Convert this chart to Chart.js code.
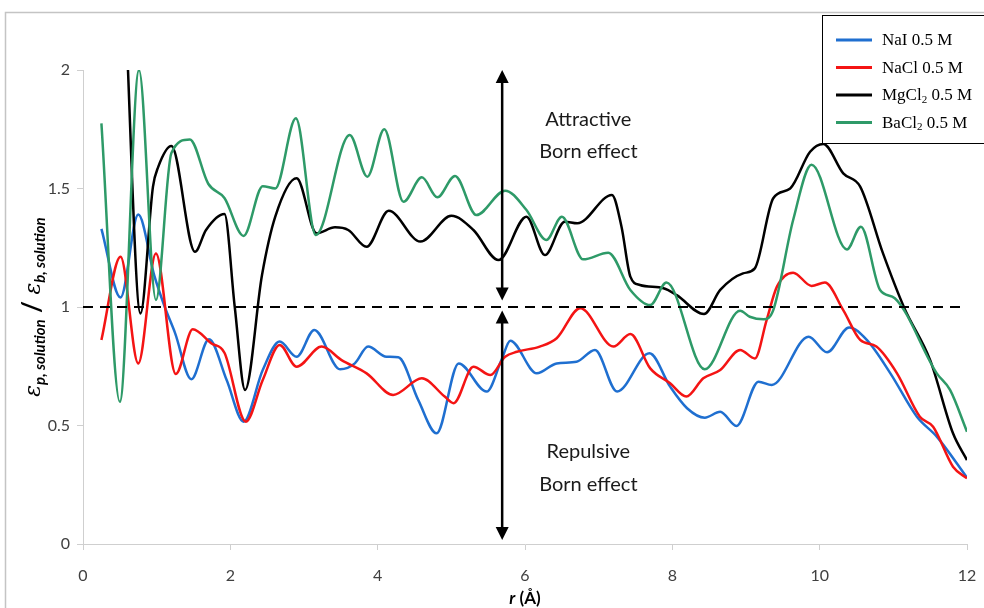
<!DOCTYPE html>
<html>
<head>
<meta charset="utf-8">
<title>Born effect</title>
<script src="https://cdn.jsdelivr.net/npm/chart.js@4.4.1/dist/chart.umd.min.js"></script>
<style>
  html, body { margin: 0; padding: 0; background: #fff; }
  #wrap { width: 984px; height: 608px; }
</style>
</head>
<body>
<div id="wrap"><canvas id="bornChart" width="984" height="608"></canvas></div>
<script>
// r in angstrom, ratio eps_p / eps_b for each salt solution
const naiR = [0.25, 0.51, 0.75, 0.97, 1.11, 1.25, 1.47, 1.71, 1.95, 2.18, 2.44, 2.67, 2.90, 3.14, 3.49, 3.69, 3.87, 4.12, 4.28, 4.55, 4.80, 5.10, 5.48, 5.68, 5.80, 6.16, 6.43, 6.70, 6.95, 7.25, 7.69, 7.97, 8.20, 8.44, 8.65, 8.87, 9.17, 9.35, 9.85, 10.10, 10.40, 10.64, 10.96, 11.32, 11.59, 12.0];
const naiEps = [1.33, 1.04, 1.39, 1.13, 1.0, 0.89, 0.695, 0.864, 0.692, 0.516, 0.734, 0.854, 0.79, 0.903, 0.737, 0.762, 0.833, 0.79, 0.788, 0.608, 0.467, 0.762, 0.643, 0.776, 0.858, 0.72, 0.762, 0.769, 0.819, 0.643, 0.805, 0.664, 0.573, 0.533, 0.558, 0.498, 0.685, 0.671, 0.875, 0.809, 0.914, 0.861, 0.72, 0.537, 0.453, 0.28];

const naclR = [0.25, 0.51, 0.75, 0.99, 1.26, 1.49, 1.74, 1.92, 2.21, 2.44, 2.67, 2.90, 3.24, 3.51, 3.85, 4.21, 4.60, 4.91, 5.03, 5.30, 5.53, 5.73, 5.89, 6.20, 6.43, 6.75, 7.20, 7.43, 7.70, 7.97, 8.19, 8.42, 8.65, 8.92, 9.12, 9.28, 9.42, 9.64, 9.89, 10.07, 10.32, 10.55, 10.77, 11.05, 11.36, 11.54, 11.81, 12.0];
const naclEps = [0.861, 1.212, 0.762, 1.226, 0.717, 0.906, 0.847, 0.807, 0.516, 0.692, 0.84, 0.748, 0.833, 0.776, 0.72, 0.629, 0.699, 0.622, 0.594, 0.748, 0.713, 0.79, 0.811, 0.833, 0.868, 0.995, 0.833, 0.886, 0.741, 0.678, 0.622, 0.699, 0.734, 0.819, 0.783, 0.945, 1.086, 1.145, 1.089, 1.103, 0.987, 0.861, 0.833, 0.72, 0.537, 0.495, 0.326, 0.277];

const mgcl2R = [0.57, 0.78, 0.95, 1.02, 1.20, 1.52, 1.67, 1.92, 2.06, 2.20, 2.43, 2.61, 2.90, 3.17, 3.42, 3.60, 3.85, 4.15, 4.58, 5.00, 5.30, 5.64, 6.02, 6.27, 6.54, 6.71, 7.18, 7.31, 7.43, 7.56, 7.88, 8.06, 8.43, 8.65, 8.96, 9.12, 9.37, 9.60, 9.87, 10.05, 10.32, 10.55, 10.86, 11.15, 11.50, 11.81, 12.0];
const mgcl2Eps = [2.3, 0.973, 1.508, 1.59, 1.679, 1.233, 1.325, 1.392, 1.0, 0.65, 1.135, 1.381, 1.543, 1.311, 1.336, 1.325, 1.254, 1.406, 1.276, 1.385, 1.325, 1.198, 1.381, 1.219, 1.36, 1.353, 1.473, 1.339, 1.128, 1.093, 1.079, 1.05, 0.97, 1.072, 1.142, 1.163, 1.459, 1.50, 1.655, 1.688, 1.564, 1.508, 1.226, 0.995, 0.776, 0.467, 0.354];

const bacl2R = [0.25, 0.50, 0.76, 0.99, 1.20, 1.45, 1.70, 1.92, 2.18, 2.44, 2.61, 2.89, 3.16, 3.62, 3.86, 4.09, 4.35, 4.60, 4.81, 5.05, 5.34, 5.73, 6.02, 6.29, 6.50, 6.79, 7.13, 7.43, 7.70, 7.92, 8.44, 8.92, 9.05, 9.24, 9.37, 9.64, 9.89, 10.37, 10.56, 10.82, 11.02, 11.59, 11.77, 12.0];
const bacl2Eps = [1.775, 0.60, 2.0, 1.03, 1.65, 1.707, 1.52, 1.46, 1.30, 1.51, 1.50, 1.796, 1.304, 1.726, 1.55, 1.75, 1.444, 1.547, 1.463, 1.553, 1.388, 1.491, 1.409, 1.283, 1.381, 1.201, 1.229, 1.072, 1.008, 1.103, 0.737, 0.984, 0.959, 0.948, 0.987, 1.367, 1.60, 1.243, 1.339, 1.072, 1.037, 0.72, 0.65, 0.474];

// eps ratio = 1 reference
const refR = [0, 12];
const refEps = [1, 1];

const xTicks = [0, 2, 4, 6, 8, 10, 12];
const yTicks = [0, 0.5, 1, 1.5, 2];

function toPoints(xs, ys) {
  return xs.map((x, i) => ({ x: x, y: ys[i] }));
}

function curve(label, xs, ys, color, order) {
  return {
    label: label,
    data: toPoints(xs, ys),
    borderColor: color,
    backgroundColor: color,
    borderWidth: 2.5,
    pointRadius: 0,
    cubicInterpolationMode: 'monotone',
    fill: false,
    order: order
  };
}

// draws text, turning "₂" into a lowered small 2
function drawSubText(ctx, text, x, y, size, family) {
  const parts = text.split('₂');
  let cx = x;
  parts.forEach((p, i) => {
    ctx.font = size + 'px ' + family;
    ctx.fillText(p, cx, y);
    cx += ctx.measureText(p).width;
    if (i < parts.length - 1) {
      ctx.font = Math.round(size * 0.65) + 'px ' + family;
      ctx.fillText('2', cx, y + 4);
      cx += ctx.measureText('2').width;
    }
  });
}

function doubleArrow(ctx, px, yTop, yBot) {
  const hw = 6.5, hl = 13;
  ctx.beginPath();
  ctx.moveTo(px, yTop + hl - 1);
  ctx.lineTo(px, yBot - hl + 1);
  ctx.stroke();
  ctx.beginPath();
  ctx.moveTo(px, yTop);
  ctx.lineTo(px - hw, yTop + hl);
  ctx.lineTo(px + hw, yTop + hl);
  ctx.closePath();
  ctx.fill();
  ctx.beginPath();
  ctx.moveTo(px, yBot);
  ctx.lineTo(px - hw, yBot - hl);
  ctx.lineTo(px + hw, yBot - hl);
  ctx.closePath();
  ctx.fill();
}

const extras = {
  id: 'extras',
  beforeDraw(chart) {
    const ctx = chart.ctx;
    ctx.save();
    ctx.fillStyle = '#fff';
    ctx.fillRect(0, 0, chart.width, chart.height);
    ctx.strokeStyle = '#c4c4c4';
    ctx.lineWidth = 1.5;
    ctx.strokeRect(5.5, 12.5, 1100, 1100);
    ctx.restore();
  },
  afterDatasetsDraw(chart) {
    const { ctx, scales: { x, y } } = chart;
    const ax = x.getPixelForValue(5.69);
    ctx.save();
    ctx.strokeStyle = '#000';
    ctx.fillStyle = '#000';
    ctx.lineWidth = 2.5;
    doubleArrow(ctx, ax, y.getPixelForValue(2.0), y.getPixelForValue(1.027));
    doubleArrow(ctx, ax, y.getPixelForValue(0.985), y.getPixelForValue(0.017));

    ctx.font = '20px Lato';
    ctx.textAlign = 'center';
    ctx.textBaseline = 'middle';
    ctx.fillStyle = '#1a1a1a';
    const tx = x.getPixelForValue(6.86);
    ctx.fillText('Attractive', tx, y.getPixelForValue(1.789));
    ctx.fillText('Born effect', tx, y.getPixelForValue(1.654));
    ctx.fillText('Repulsive', tx, y.getPixelForValue(0.388));
    ctx.fillText('Born effect', tx, y.getPixelForValue(0.249));
    ctx.restore();
  },
  afterDraw(chart) {
    const { ctx, chartArea } = chart;
    ctx.save();

    // legend box
    ctx.fillStyle = '#fff';
    ctx.fillRect(822, 15, 200, 128);
    ctx.strokeStyle = '#000';
    ctx.lineWidth = 1;
    ctx.strokeRect(822.5, 15.5, 200, 128);
    const items = [0, 1, 2, 3];
    items.forEach((i, k) => {
      const ds = chart.data.datasets[i];
      const ly = 40 + k * 27.5;
      ctx.strokeStyle = ds.borderColor;
      ctx.lineWidth = 3;
      ctx.beginPath();
      ctx.moveTo(836, ly);
      ctx.lineTo(872, ly);
      ctx.stroke();
      ctx.fillStyle = '#000';
      ctx.textAlign = 'left';
      ctx.textBaseline = 'middle';
      drawSubText(ctx, ds.label, 882, ly + 1, 17, '"Liberation Serif"');
    });

    // x axis title
    ctx.fillStyle = '#000';
    ctx.textBaseline = 'alphabetic';
    ctx.textAlign = 'left';
    const xt1 = 'r', xt2 = ' (Å)';
    ctx.font = 'bold italic 17px Lato';
    const w1 = ctx.measureText(xt1).width;
    ctx.font = 'bold 17px Lato';
    const w2 = ctx.measureText(xt2).width;
    const xc = (chartArea.left + chartArea.right) / 2;
    let sx = xc - (w1 + w2) / 2;
    ctx.font = 'bold italic 17px Lato';
    ctx.fillText(xt1, sx, 604);
    ctx.font = 'bold 17px Lato';
    ctx.fillText(xt2, sx + w1, 604);

    // y axis title
    const pieces = [
      { t: 'ε', f: 'italic 22px "DejaVu Serif"', dy: 0 },
      { t: 'p, solution', f: 'bold italic 15px Lato', dy: 5 },
      { t: ' / ', f: 'bold 26px Lato', dy: 1 },
      { t: 'ε', f: 'italic 22px "DejaVu Serif"', dy: 0 },
      { t: 'b, solution', f: 'bold italic 15px Lato', dy: 5 }
    ];
    let total = 0;
    pieces.forEach(p => { ctx.font = p.f; p.w = ctx.measureText(p.t).width; total += p.w; });
    ctx.translate(34, (chartArea.top + chartArea.bottom) / 2);
    ctx.rotate(-Math.PI / 2);
    let px = -total / 2;
    pieces.forEach(p => {
      ctx.font = p.f;
      ctx.fillText(p.t, px, 6 + p.dy);
      px += p.w;
    });
    ctx.restore();
  }
};

const ctx = document.getElementById('bornChart');

const bornChart = new Chart(ctx, {
  type: 'line',
  data: {
    datasets: [
      curve('NaI 0.5 M', naiR, naiEps, '#1f6fd0', 4),
      curve('NaCl 0.5 M', naclR, naclEps, '#f41414', 3),
      curve('MgCl₂ 0.5 M', mgcl2R, mgcl2Eps, '#000000', 2),
      curve('BaCl₂ 0.5 M', bacl2R, bacl2Eps, '#2e9a68', 1),
      {
        label: 'ref',
        data: toPoints(refR, refEps),
        borderColor: '#000',
        borderWidth: 2,
        borderDash: [10, 7],
        pointRadius: 0,
        fill: false,
        order: 0
      }
    ]
  },
  options: {
    responsive: false,
    animation: false,
    layout: { padding: { top: 70, right: 17, left: 0, bottom: 0 } },
    plugins: {
      legend: { display: false },
      tooltip: { enabled: false }
    },
    scales: {
      x: {
        type: 'linear',
        min: 0,
        max: 12,
        afterBuildTicks: s => { s.ticks = xTicks.map(v => ({ value: v })); },
        afterFit: s => { s.height = 64; s.paddingLeft = 0; s.paddingRight = 0; },
        ticks: { color: '#404040', font: { family: 'Lato', size: 16 }, padding: 16, maxRotation: 0, callback: v => String(v) },
        grid: { drawOnChartArea: false, tickLength: 6, color: '#cfcfcf' },
        border: { color: '#cfcfcf' }
      },
      y: {
        min: 0,
        max: 2,
        afterBuildTicks: s => { s.ticks = yTicks.map(v => ({ value: v })); },
        afterFit: s => { s.width = 83; s.paddingTop = 0; s.paddingBottom = 0; },
        ticks: { color: '#404040', font: { family: 'Lato', size: 16 }, padding: 7, callback: v => String(v) },
        grid: { drawOnChartArea: false, tickLength: 6, color: '#cfcfcf' },
        border: { color: '#cfcfcf' }
      }
    }
  },
  plugins: [extras]
});
</script>
</body>
</html>
